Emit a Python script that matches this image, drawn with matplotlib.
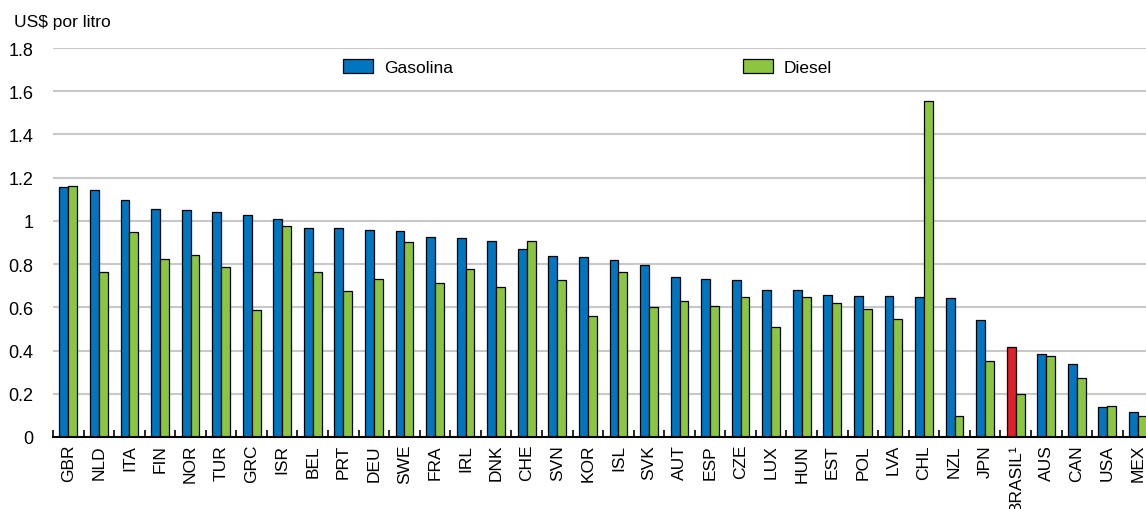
import matplotlib
matplotlib.use("Agg")
import matplotlib.pyplot as plt
import numpy as np
from matplotlib.patches import Patch

plt.rcParams['font.family'] = ['Liberation Sans', 'DejaVu Sans']

countries = ["GBR", "NLD", "ITA", "FIN", "NOR", "TUR", "GRC", "ISR", "BEL", "PRT",
             "DEU", "SWE", "FRA", "IRL", "DNK", "CHE", "SVN", "KOR", "ISL", "SVK",
             "AUT", "ESP", "CZE", "LUX", "HUN", "EST", "POL", "LVA", "CHL", "NZL",
             "JPN", "BRASIL¹", "AUS", "CAN", "USA", "MEX"]
gasolina = [1.155, 1.143, 1.097, 1.055, 1.052, 1.041, 1.029, 1.007, 0.969, 0.965,
            0.958, 0.953, 0.924, 0.919, 0.908, 0.870, 0.839, 0.833, 0.820, 0.794,
            0.739, 0.733, 0.726, 0.682, 0.679, 0.657, 0.654, 0.651, 0.649, 0.641,
            0.541, 0.415, 0.382, 0.336, 0.137, 0.116]
diesel = [1.163, 0.763, 0.949, 0.825, 0.844, 0.788, 0.589, 0.976, 0.762, 0.677,
          0.733, 0.901, 0.713, 0.776, 0.695, 0.905, 0.725, 0.561, 0.762, 0.603,
          0.629, 0.604, 0.648, 0.511, 0.646, 0.621, 0.592, 0.547, 1.553, 0.095,
          0.350, 0.199, 0.375, 0.271, 0.143, 0.099]
highlight = "BRASIL¹"
yticks = [0, 0.2, 0.4, 0.6, 0.8, 1.0, 1.2, 1.4, 1.6, 1.8]
ytick_labels = ["0", "0.2", "0.4", "0.6", "0.8", "1", "1.2", "1.4", "1.6", "1.8"]

BLUE = "#0076C0"
GREEN = "#8CC63F"
RED = "#E0202A"
FS = 12.5
W, H = 1146, 510
fig = plt.figure(figsize=(W / 100, H / 100), dpi=100)
ax = fig.add_axes([53 / W, (510 - 438) / H, (1153.2 - 53) / W, (438 - 49) / H])

x = np.arange(len(countries))
bw = 0.29
gcolors = [RED if c == highlight else BLUE for c in countries]
ax.bar(x - bw / 2, gasolina, width=bw, color=gcolors, edgecolor="black",
       linewidth=0.9, zorder=3)
ax.bar(x + bw / 2, diesel, width=bw, color=GREEN, edgecolor="black",
       linewidth=0.9, zorder=3)

ax.set_xlim(-0.5, len(countries) - 0.5)
ax.set_ylim(0, 1.8)
ax.set_yticks(yticks)
ax.set_yticklabels(ytick_labels, fontsize=13)
ax.yaxis.grid(True, color="#c8c8c8", linewidth=1.5, zorder=0)
ax.set_axisbelow(True)
ax.tick_params(axis="y", length=0, pad=14)
for s in ["top", "right", "left"]:
    ax.spines[s].set_visible(False)
ax.spines["bottom"].set_linewidth(1.5)
ax.spines["bottom"].set_zorder(4)

ax.set_xticks(x)
ax.set_xticklabels(countries, rotation=90, fontsize=FS)
ax.tick_params(axis="x", length=0, pad=5)
ax.set_xticks(np.arange(-0.5, len(countries)), minor=True)
ax.tick_params(axis="x", which="minor", direction="in", length=5, width=1.2)

fig.text(14 / W, 1 - 22 / H, "US$ por litro", fontsize=FS, va="center", ha="left")

h_gas = Patch(facecolor=BLUE, edgecolor="black", linewidth=0.9, label="Gasolina")
h_die = Patch(facecolor=GREEN, edgecolor="black", linewidth=0.9, label="Diesel")
em = FS * 100 / 72
for h, x0 in [(h_gas, 343), (h_die, 742.7)]:
    fig.legend(handles=[h], loc="center left", bbox_to_anchor=(x0 / W, 1 - 68 / H),
               frameon=False, fontsize=FS, handlelength=30 / em, handleheight=14 / em,
               handletextpad=11 / em, borderpad=0, borderaxespad=0)

fig.savefig("out.png", dpi=100)
